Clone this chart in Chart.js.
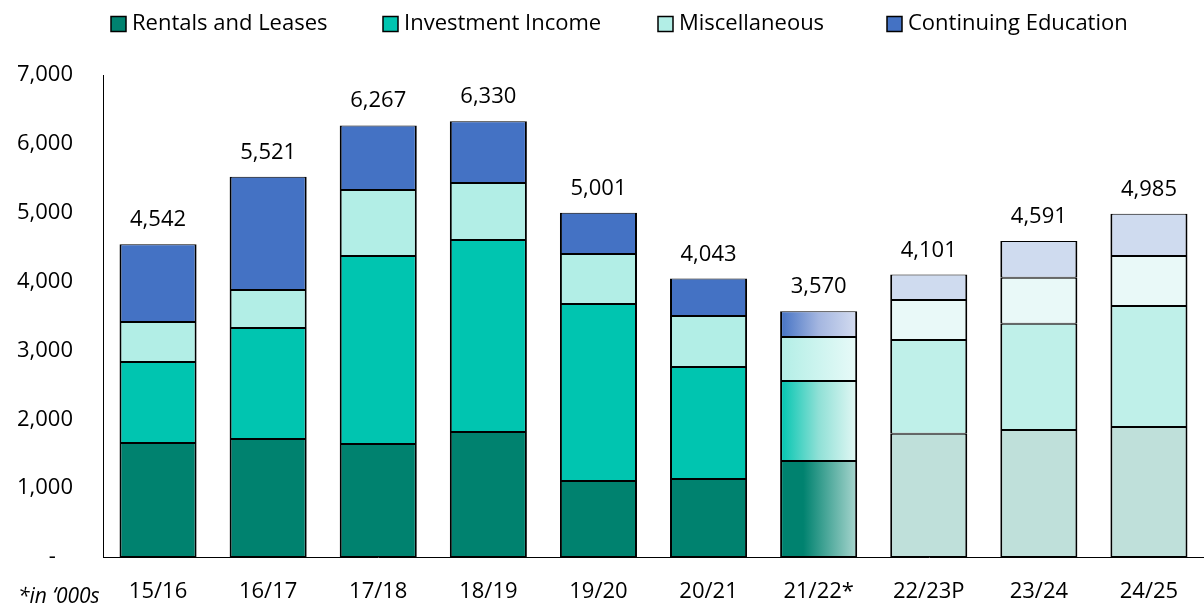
<!DOCTYPE html>
<html lang="en">
<head>
    <meta charset="UTF-8">
    <title>Revenue by Source</title>
    <script src="https://cdn.jsdelivr.net/npm/chart.js@4.4.0/dist/chart.umd.min.js"></script>
    <style>
        html, body { margin: 0; padding: 0; background: #fff; }
        #wrap { width: 1204px; height: 608px; position: relative; }
    </style>
</head>
<body>
    <div id="wrap"><canvas id="revChart" width="1204" height="608"></canvas></div>

    <script>
        // data (in '000s)
        const years = ['15/16', '16/17', '17/18', '18/19', '19/20', '20/21', '21/22*', '22/23P', '23/24', '24/25'];
        const rentals = [1656, 1714, 1641, 1815, 1104, 1133, 1394, 1791, 1844, 1888];
        const investment = [1176, 1612, 2730, 2789, 2570, 1626, 1162, 1360, 1544, 1757];
        const misc = [581, 551, 959, 827, 726, 741, 639, 581, 668, 726];
        const contEd = [1129, 1644, 937, 899, 601, 543, 375, 369, 535, 614];
        const totals = [4542, 5521, 6267, 6330, 5001, 4043, 3570, 4101, 4591, 4985];
        // actual / partial year / projected
        const status = ['A', 'A', 'A', 'A', 'A', 'A', 'G', 'P', 'P', 'P'];

        const FONT = '"Open Sans", Lato, sans-serif';
        const keys = ['rentals', 'investment', 'misc', 'contEd'];
        const legendX = [111, 383, 658, 887]; // left edge of each legend swatch

        // colours: solid, projected, gradient stops for 21/22
        const palette = {
            rentals: { solid: '#00826f', proj: '#bfe0da', grad: [[0, '#00826f'], [0.3, '#00826f'], [1, '#a9d6cf']] },
            investment: { solid: '#00c5b0', proj: '#bff0e9', grad: [[0, '#00c5b0'], [0.5, '#8fe0d6'], [1, '#e4f8f5']] },
            misc: { solid: '#b2eee6', proj: '#e9f9f8', grad: [[0, '#b2eee6'], [1, '#e8faf8']] },
            contEd: { solid: '#4472c4', proj: '#cfdbef', grad: [[0, '#4472c4'], [0.5, '#a4b6e0'], [1, '#d4dcf0']] }
        };

        function barColor(key) {
            const p = palette[key];
            return function (ctx) {
                const i = ctx.dataIndex;
                if (status[i] === 'A') return p.solid;
                if (status[i] === 'P') return p.proj;
                const chart = ctx.chart;
                const xs = chart.scales.x;
                if (!chart.chartArea || !xs) return p.solid;
                const step = xs.getPixelForValue(1) - xs.getPixelForValue(0);
                const cx = xs.getPixelForValue(i);
                const half = step * 0.7 / 2;
                const g = chart.ctx.createLinearGradient(cx - half, 0, cx + half, 0);
                p.grad.forEach(s => g.addColorStop(s[0], s[1]));
                return g;
            };
        }

        // legend, totals above each stack, unit note
        const extrasPlugin = {
            id: 'extras',
            afterDatasetsDraw(chart) {
                const c = chart.ctx;
                c.save();
                c.fillStyle = '#000';

                // totals
                const meta = chart.getDatasetMeta(3);
                c.font = '22px ' + FONT;
                c.textAlign = 'center';
                c.textBaseline = 'alphabetic';
                meta.data.forEach((el, i) => {
                    c.fillText(totals[i].toLocaleString('en-US'), el.x, el.y - 18);
                });

                // legend
                c.font = '22px ' + FONT;
                c.textAlign = 'left';
                c.textBaseline = 'middle';
                const box = 15, ly = 24;
                chart.data.datasets.forEach((d, i) => {
                    const lx = legendX[i];
                    c.fillStyle = palette[keys[i]].solid;
                    c.fillRect(lx, ly - box / 2, box, box);
                    c.lineWidth = 1.5;
                    c.strokeStyle = '#000';
                    c.strokeRect(lx, ly - box / 2, box, box);
                    c.fillStyle = '#000';
                    c.fillText(d.label, lx + box + 6, ly);
                });

                // unit note
                c.font = 'italic 21px ' + FONT;
                c.textBaseline = 'alphabetic';
                c.fillText('*in \u2018000s', 18, 603);
                c.restore();
            }
        };

        const ds = (label, data, key) => ({
            label: label,
            data: data,
            backgroundColor: barColor(key),
            borderColor: '#000',
            borderWidth: { top: 1, bottom: 1, left: 2, right: 2 },
            borderSkipped: false,
            barPercentage: 0.7,
            categoryPercentage: 1.0
        });

        const ctx = document.getElementById('revChart').getContext('2d');
        new Chart(ctx, {
            type: 'bar',
            data: {
                labels: years,
                datasets: [
                    ds('Rentals and Leases', rentals, 'rentals'),
                    ds('Investment Income', investment, 'investment'),
                    ds('Miscellaneous', misc, 'misc'),
                    ds('Continuing Education', contEd, 'contEd')
                ]
            },
            options: {
                responsive: false,
                animation: false,
                layout: { padding: { top: 75, right: 0, left: 0, bottom: 0 } },
                plugins: {
                    tooltip: { enabled: false },
                    legend: { display: false }
                },
                scales: {
                    x: {
                        stacked: true,
                        grid: { display: false },
                        border: { display: true, color: '#000', width: 1 },
                        ticks: { font: { family: FONT, size: 22 }, color: '#000', padding: 14 },
                        afterFit(scale) { scale.height = 51; }
                    },
                    y: {
                        stacked: true,
                        min: 0,
                        max: 7000,
                        grid: { display: false },
                        border: { display: true, color: '#000', width: 1 },
                        ticks: {
                            stepSize: 1000,
                            font: { family: FONT, size: 22 },
                            color: '#000',
                            padding: 22,
                            callback: v => v === 0 ? '-   ' : v.toLocaleString('en-US')
                        },
                        afterFit(scale) { scale.width = 103; }
                    }
                }
            },
            plugins: [extrasPlugin]
        });
    </script>
</body>
</html>
